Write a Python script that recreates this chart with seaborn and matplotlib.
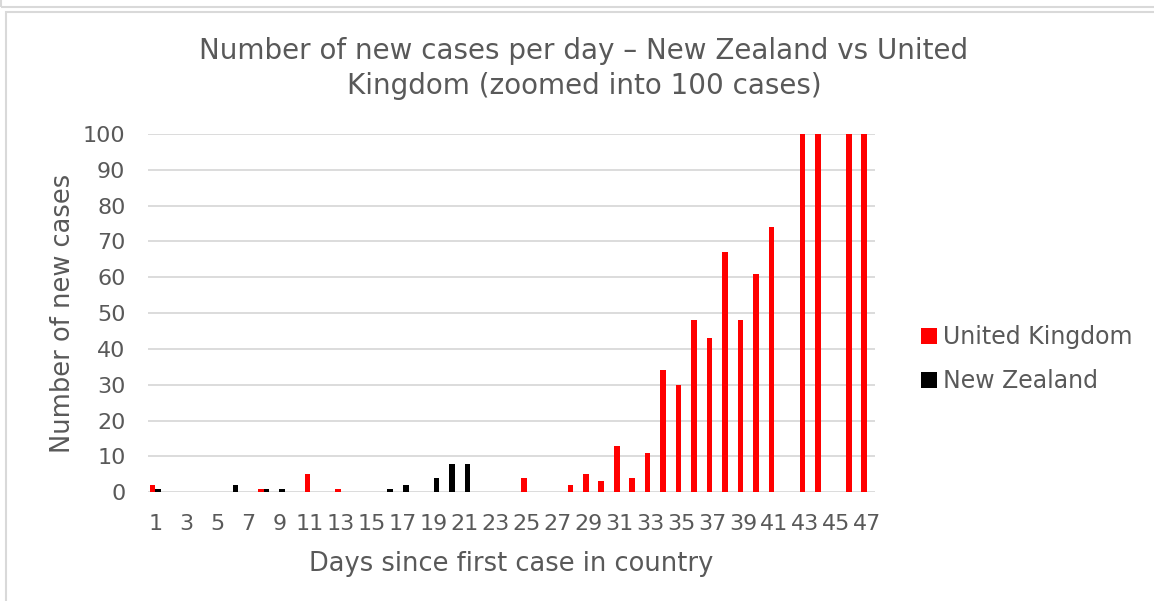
"""
New cases per day, New Zealand vs United Kingdom (y-axis cut at 100 cases).
"""

import matplotlib
matplotlib.use("Agg")
import matplotlib.pyplot as plt
from matplotlib.patches import Rectangle
import numpy as np
import pandas as pd
import seaborn as sns


# ─────────────────────────────────────────────
# DATA
# ─────────────────────────────────────────────

days = list(range(1, 48))

# United Kingdom: day -> new cases (days not listed are 0 / no report)
uk_days  = [1, 8, 11, 13, 25, 28, 29, 30, 31, 32, 33, 34, 35, 36, 37, 38, 39, 40, 41, 43, 44, 46, 47]
uk_cases = [2, 1, 5, 1, 4, 2, 5, 3, 13, 4, 11, 34, 30, 48, 43, 67, 48, 61, 74, 134, 208, 251, 342]

# New Zealand
nz_days  = [1, 6, 8, 9, 16, 17, 19, 20, 21]
nz_cases = [1, 2, 1, 1, 1, 2, 4, 8, 8]

series_names = ["United Kingdom", "New Zealand"]
series_colors = ["#FF0000", "#000000"]

y_ticks = list(range(0, 101, 10))
x_tick_labels = [str(d) if d % 2 == 1 else "" for d in days]

title = "Number of new cases per day \u2013 New Zealand vs United\nKingdom (zoomed into 100 cases)"
x_label = "Days since first case in country"
y_label = "Number of new cases"


# ─────────────────────────────────────────────
# LONG-FORM TABLE
# ─────────────────────────────────────────────

def build_frame():
    uk = dict(zip(uk_days, uk_cases))
    nz = dict(zip(nz_days, nz_cases))
    rows = []
    for d in days:
        rows.append({"day": d, "country": series_names[0], "cases": uk.get(d, 0)})
        rows.append({"day": d, "country": series_names[1], "cases": nz.get(d, 0)})
    return pd.DataFrame(rows)


df = build_frame()

# ─────────────────────────────────────────────
# PLOT
# ─────────────────────────────────────────────

TEXT = "#595959"
GRID = "#D9D9D9"

sns.set_theme(style="white")
plt.rcParams["font.family"] = ["DejaVu Sans"]

fig = plt.figure(figsize=(11.54, 6.01), dpi=100)
ax = fig.add_axes([0.128, 0.181, 0.630, 0.596])

sns.barplot(
    data=df, x="day", y="cases", hue="country",
    order=days, hue_order=series_names,
    palette=series_colors, width=0.72, saturation=1,
    errorbar=None, ax=ax, zorder=3, linewidth=0,
)

ax.set_ylim(0, 100)
ax.set_yticks(y_ticks)
ax.set_xticks(range(len(days)))
ax.set_xticklabels(x_tick_labels)
ax.tick_params(axis="both", length=0, colors=TEXT, labelsize=16)
ax.tick_params(axis="x", pad=16)
ax.tick_params(axis="y", pad=16)

ax.grid(axis="y", color=GRID, lw=1.3, zorder=0)
ax.set_axisbelow(True)
for s in ax.spines.values():
    s.set_visible(False)

ax.set_xlabel(x_label, fontsize=18.5, color=TEXT, labelpad=12)
ax.set_ylabel(y_label, fontsize=18.5, color=TEXT, labelpad=5)

fig.text(0.506, 0.886, title, ha="center", va="center",
         fontsize=20, color=TEXT, linespacing=1.3)

leg = ax.legend(
    loc="center left", bbox_to_anchor=(1.035, 0.372), frameon=False,
    fontsize=17, handlelength=0.65, handleheight=0.65, handletextpad=0.25,
    labelspacing=0.85, labelcolor=TEXT,
)

# chart frame borders
fig.patches.append(Rectangle((6 / 1154, -0.05), 1.2, (601 - 12.5) / 601 + 0.05,
                             transform=fig.transFigure, fill=False,
                             edgecolor=GRID, lw=1.5, zorder=0))
fig.patches.append(Rectangle((1 / 1154, 1 - 7 / 601), 1.2, 0.1,
                             transform=fig.transFigure, fill=False,
                             edgecolor=GRID, lw=1.5, zorder=0))

fig.savefig("out.png", dpi=100)
plt.close(fig)
